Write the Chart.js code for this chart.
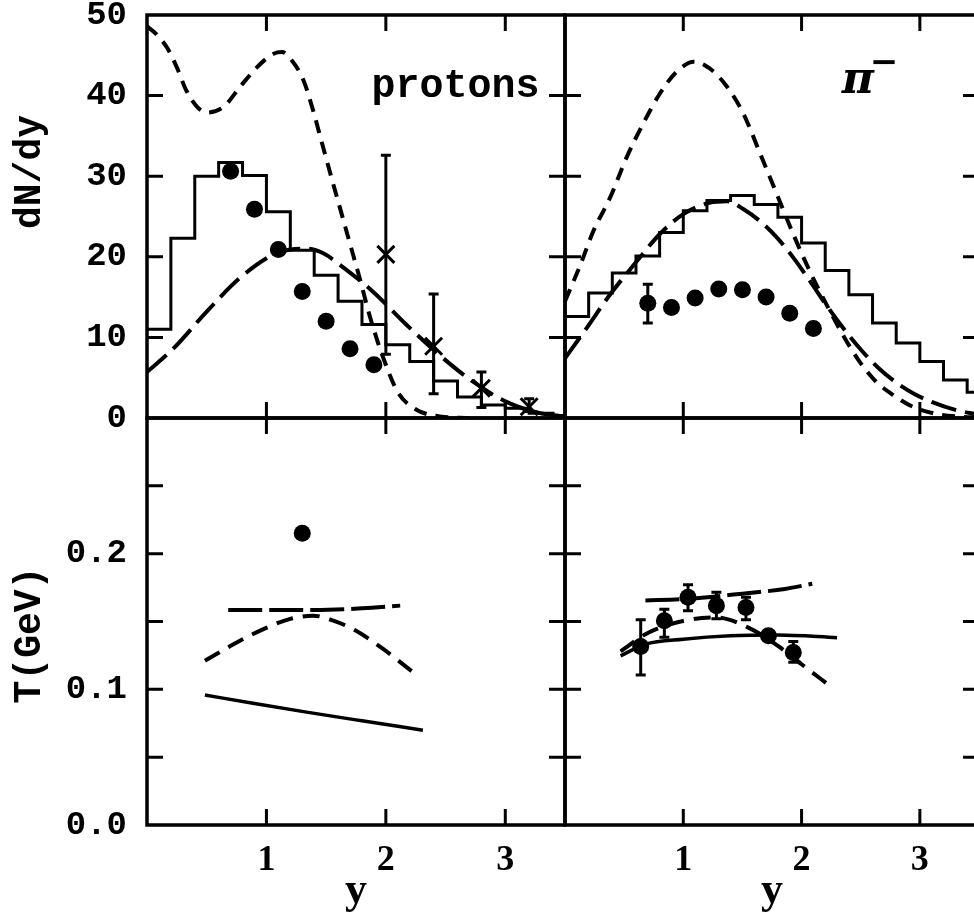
<!DOCTYPE html>
<html>
<head>
<meta charset="utf-8">
<script src="https://cdn.jsdelivr.net/npm/chart.js@4.4.1/dist/chart.umd.min.js"></script>
<style>
    html, body { margin: 0; padding: 0; background: #fff; overflow: hidden; }
    #wrap { position: relative; width: 974px; height: 918px; overflow: hidden; background: #fff; }
    canvas { position: absolute; }
</style>
</head>
<body>
<div id="wrap">
    <canvas id="tl" width="570" height="445" style="left:0;top:0;width:570px;height:445px"></canvas>
    <canvas id="tr" width="420" height="445" style="left:563px;top:0;width:420px;height:445px"></canvas>
    <canvas id="bl" width="570" height="508" style="left:0;top:410px;width:570px;height:508px"></canvas>
    <canvas id="br" width="420" height="508" style="left:563px;top:410px;width:420px;height:508px"></canvas>
</div>
<script>
// ---- axis ticks ----
const xTickVals = [1, 2, 3];
const nTickVals = [10, 20, 30, 40];
const nLabelVals = [0, 10, 20, 30, 40, 50];
const tTickVals = [0.05, 0.1, 0.15, 0.2, 0.25];
const tLabelVals = [0, 0.1, 0.2];

// ---- protons dN/dy ----
const binLo = [0, 0.2, 0.4, 0.6, 0.8, 1.0, 1.2, 1.4, 1.6, 1.8, 2.0, 2.2, 2.4, 2.6, 2.8, 3.0, 3.2, 3.4];
const pHist = [11, 22.3, 30, 31.7, 30.1, 25.6, 20.8, 17.7, 14.5, 11.6, 9.1, 7.0, 4.6, 2.6, 1.6, 1.2, 0.6, 0.3];
const pDotY = [0.7, 0.9, 1.1, 1.3, 1.5, 1.7, 1.9];
const pDotN = [30.6, 25.9, 20.9, 15.7, 12.0, 8.6, 6.6];
const pCrossY = [2.0, 2.4, 2.8, 3.2];
const pCrossN = [20.3, 8.9, 3.7, 1.4];
const pCrossLo = [7.9, 3.0, 1.3, 0.8];
const pCrossHi = [32.6, 15.4, 5.7, 2.4];
const pShortY = [0, 0.08, 0.17, 0.25, 0.33, 0.42, 0.5, 0.64, 0.78, 0.92, 1.06, 1.13, 1.2, 1.31, 1.39, 1.46, 1.545, 1.615, 1.7, 1.78, 1.87, 1.98, 2.1, 2.26, 2.45, 2.7];
const pShortN = [48.6, 47.6, 45.9, 43.5, 40.6, 38.6, 37.9, 38.6, 41.1, 43.5, 45.2, 45.4, 44.6, 41.9, 38.2, 34.4, 29.8, 26.1, 21.6, 17.4, 12.4, 7.4, 3.2, 1.0, 0.2, 0];
const pLongY = [0, 0.22, 0.5, 0.78, 1.06, 1.2, 1.34, 1.48, 1.615, 1.89, 2.17, 2.45, 2.73, 3.01, 3.29, 3.5];
const pLongN = [5.7, 8.6, 13.2, 17.4, 20.3, 20.9, 21.0, 20.4, 19.0, 15.7, 11.6, 7.8, 4.5, 2.0, 0.6, 0.2];

// ---- pi- dN/dy ----
const piHist = [12.6, 15.5, 18.0, 20.1, 23.0, 25.7, 27.0, 27.6, 26.5, 24.9, 21.7, 18.3, 15.3, 11.8, 9.3, 7.0, 4.7, 3.2];
const piDotY = [0.7, 0.9, 1.1, 1.3, 1.5, 1.7, 1.9, 2.1];
const piDotN = [14.25, 13.7, 14.9, 16.0, 15.9, 15.0, 13.0, 11.1];
const piDotLo = [11.8, null, null, null, null, null, null, null];
const piDotHi = [16.6, null, null, null, null, null, null, null];
const piShortY = [0, 0.13, 0.24, 0.38, 0.52, 0.66, 0.8, 0.94, 1.09, 1.22, 1.37, 1.51, 1.65, 1.79, 1.93, 2.07, 2.21, 2.35, 2.49, 2.63, 2.78, 2.94, 3.14, 3.35, 3.5];
const piShortN = [14.5, 19.0, 23.2, 27.3, 32.3, 36.5, 40.2, 42.9, 44.2, 43.4, 41.1, 37.7, 32.8, 27.8, 22.8, 18.2, 14.1, 10.3, 7.0, 4.5, 2.8, 1.4, 0.5, 0.15, 0.05];
const piLongY = [0, 0.18, 0.38, 0.61, 0.8, 1.0, 1.22, 1.37, 1.51, 1.65, 1.79, 1.93, 2.07, 2.2, 2.35, 2.5, 2.65, 2.8, 2.95, 3.1, 3.3, 3.5];
const piLongN = [7.4, 11.1, 15.3, 19.5, 22.8, 25.3, 26.7, 26.9, 25.9, 24.4, 22.4, 19.9, 17.0, 14.2, 11.2, 8.5, 6.2, 4.4, 3.0, 2.0, 1.0, 0.4];

// ---- protons T ----
const pTDotY = [1.3];
const pTDotT = [0.215];
const pTLongY = [0.68, 1.0, 1.4, 1.8, 2.12];
const pTLongT = [0.1585, 0.1585, 0.1585, 0.1597, 0.1617];
const pTShortY = [0.485, 0.72, 0.975, 1.2, 1.39, 1.56, 1.75, 1.98, 2.23];
const pTShortT = [0.121, 0.133, 0.1444, 0.1519, 0.1543, 0.1506, 0.1432, 0.1296, 0.1124];
const pTSolidY = [0.485, 0.9, 1.336, 1.8, 2.31];
const pTSolidT = [0.0958, 0.0895, 0.0832, 0.0768, 0.0699];

// ---- pi- T ----
const piTDotY = [0.64, 0.84, 1.04, 1.28, 1.53, 1.72, 1.93];
const piTDotT = [0.1316, 0.1506, 0.1678, 0.1617, 0.1604, 0.1395, 0.1272];
const piTDotLo = [0.1106, 0.1383, 0.158, 0.152, 0.1513, null, 0.12];
const piTDotHi = [0.1513, 0.159, 0.177, 0.1715, 0.1678, null, 0.1353];
const piTLongY = [0.68, 1.0, 1.5, 1.86, 2.09];
const piTLongT = [0.1655, 0.1665, 0.1705, 0.174, 0.1778];
const piTShortY = [0.47, 0.7, 1.03, 1.28, 1.55, 1.8, 2.0, 2.24];
const piTShortT = [0.128, 0.1415, 0.151, 0.153, 0.1455, 0.132, 0.1185, 0.1025];
const piTSolidY = [0.47, 0.68, 1.0, 1.4, 1.8, 2.3];
const piTSolidT = [0.1247, 0.1333, 0.137, 0.1395, 0.14, 0.1381];

const INK = "#000";
const monoBold = (size) => ({ family: "'Liberation Mono', 'Courier New', monospace", size: size, weight: "bold" });
const serifBold = (size) => ({ family: "'Liberation Serif', 'Times New Roman', serif", size: size, weight: "bold" });

function pts(xs, ys) {
    return xs.map((x, i) => ({ x: x, y: ys[i] }));
}

function histPts(lo, vals) {
    const p = lo.map((x, i) => ({ x: x, y: vals[i] }));
    p.push({ x: lo[lo.length - 1] + 0.2, y: vals[vals.length - 1] });
    return p;
}

// horizontal first, then the vertical jump at the next bin edge
function histSet(vals) {
    return { data: histPts(binLo, vals), stepped: "before", borderColor: INK, borderWidth: 3, pointRadius: 0, fill: false };
}

function curveSet(xs, ys, dash, width) {
    return {
        data: pts(xs, ys), borderColor: INK, borderWidth: width || 4, borderDash: dash,
        pointRadius: 0, fill: false, cubicInterpolationMode: "monotone", borderCapStyle: "butt"
    };
}

function dotSet(xs, ys, lo, hi) {
    return {
        data: pts(xs, ys), showLine: false, pointStyle: "circle", pointRadius: 8.5,
        pointBackgroundColor: INK, pointBorderWidth: 0, errLo: lo, errHi: hi
    };
}

// inward ticks on all four sides plus the frame
function framePlugin(yTicks) {
    return {
        id: "frame",
        afterDatasetsDraw(chart) {
            const { ctx, chartArea: a, scales } = chart;
            const len = 16;
            ctx.save();
            ctx.strokeStyle = INK;
            ctx.lineWidth = 3;
            ctx.beginPath();
            xTickVals.forEach((v) => {
                const px = scales.x.getPixelForValue(v);
                ctx.moveTo(px, a.top);
                ctx.lineTo(px, a.top + len);
                ctx.moveTo(px, a.bottom);
                ctx.lineTo(px, a.bottom - len);
            });
            yTicks.forEach((v) => {
                const py = scales.y.getPixelForValue(v);
                ctx.moveTo(a.left, py);
                ctx.lineTo(a.left + len, py);
                ctx.moveTo(a.right, py);
                ctx.lineTo(a.right - len, py);
            });
            ctx.stroke();
            ctx.lineWidth = 3.5;
            ctx.strokeRect(a.left, a.top, a.right - a.left, a.bottom - a.top);
            ctx.restore();
        }
    };
}

// vertical error bars with caps
const errorBarPlugin = {
    id: "errorBars",
    afterDatasetsDraw(chart) {
        const { ctx, scales } = chart;
        ctx.save();
        ctx.strokeStyle = INK;
        ctx.lineWidth = 3;
        chart.data.datasets.forEach((ds) => {
            if (!ds.errLo) return;
            ds.data.forEach((p, i) => {
                if (ds.errLo[i] == null) return;
                const px = scales.x.getPixelForValue(p.x);
                const y1 = scales.y.getPixelForValue(ds.errLo[i]);
                const y2 = scales.y.getPixelForValue(ds.errHi[i]);
                ctx.beginPath();
                ctx.moveTo(px, y1); ctx.lineTo(px, y2);
                ctx.moveTo(px - 5, y1); ctx.lineTo(px + 5, y1);
                ctx.moveTo(px - 5, y2); ctx.lineTo(px + 5, y2);
                ctx.stroke();
            });
        });
        ctx.restore();
    }
};

// free text: panel names and rotated y titles
function textPlugin(draw) {
    return { id: "texts", afterDraw(chart) { chart.ctx.save(); draw(chart.ctx, chart.scales); chart.ctx.restore(); } };
}

function panel(id, p) {
    const ctx = document.getElementById(id);
    return new Chart(ctx, {
        type: "line",
        data: { datasets: p.datasets },
        options: {
            responsive: false,
            animation: false,
            events: [],
            layout: { padding: p.pad, autoPadding: false },
            plugins: { legend: { display: false }, tooltip: { enabled: false } },
            scales: {
                x: {
                    type: "linear", min: 0, max: 3.5, display: p.showX,
                    grid: { display: false, drawTicks: false },
                    border: { display: false },
                    afterBuildTicks: (s) => { s.ticks = xTickVals.map((v) => ({ value: v })); },
                    afterFit: (s) => {
                        if (!p.showX) return;
                        s.height = 93; s.paddingLeft = 0; s.paddingRight = 0;
                    },
                    ticks: { color: INK, padding: 14, font: serifBold(36), callback: (v) => String(v) },
                    title: { display: true, text: "y", color: INK, padding: 0, font: serifBold(44) }
                },
                y: {
                    type: "linear", min: p.yMin, max: p.yMax, display: p.showY,
                    grid: { display: false, drawTicks: false },
                    border: { display: false },
                    afterBuildTicks: (s) => { s.ticks = p.yLabels.map((v) => ({ value: v })); },
                    afterFit: (s) => {
                        if (!p.showY) return;
                        s.width = 147; s.paddingTop = 0; s.paddingBottom = 0;
                    },
                    ticks: { color: INK, padding: 20, font: monoBold(34), callback: p.yFmt }
                }
            }
        },
        plugins: [framePlugin(p.yTicks), errorBarPlugin, textPlugin(p.texts)]
    });
}

function rotatedTitle(ctx, text, cx, cy) {
    ctx.fillStyle = INK;
    ctx.translate(cx, cy);
    ctx.rotate(-Math.PI / 2);
    ctx.font = "bold 38px 'Liberation Mono', monospace";
    ctx.textAlign = "center";
    ctx.textBaseline = "middle";
    ctx.fillText(text, 0, 0);
}

document.addEventListener("DOMContentLoaded", function () {
    // protons dN/dy
    panel("tl", {
        pad: { top: 15, right: 5, bottom: 27, left: 0 },
        showX: false, showY: true, yMin: 0, yMax: 50,
        yLabels: nLabelVals, yTicks: nTickVals, yFmt: (v) => String(v),
        datasets: [
            histSet(pHist),
            curveSet(pShortY, pShortN, [13, 9]),
            curveSet(pLongY, pLongN, [26, 9]),
            dotSet(pDotY, pDotN),
            {
                data: pts(pCrossY, pCrossN), showLine: false, pointStyle: "crossRot", pointRadius: 12,
                pointBorderColor: INK, pointBorderWidth: 3, errLo: pCrossLo, errHi: pCrossHi
            }
        ],
        texts: (ctx, sc) => {
            ctx.fillStyle = INK;
            ctx.font = "bold 40px 'Liberation Mono', monospace";
            ctx.textBaseline = "alphabetic";
            ctx.fillText("protons", sc.x.getPixelForValue(1.88), sc.y.getPixelForValue(39.8));
            rotatedTitle(ctx, "dN/dy", 30, 172);
        }
    });

    // pi- dN/dy
    panel("tr", {
        pad: { top: 15, right: 4, bottom: 27, left: 2 },
        showX: false, showY: false, yMin: 0, yMax: 50,
        yLabels: nLabelVals, yTicks: nTickVals, yFmt: (v) => String(v),
        datasets: [
            histSet(piHist),
            curveSet(piShortY, piShortN, [13, 9]),
            curveSet(piLongY, piLongN, [26, 9]),
            dotSet(piDotY, piDotN, piDotLo, piDotHi)
        ],
        texts: (ctx, sc) => {
            ctx.fillStyle = INK;
            const x0 = sc.x.getPixelForValue(2.34);
            const y0 = sc.y.getPixelForValue(40.3);
            ctx.font = "italic bold 44px 'DejaVu Serif', serif";
            ctx.textBaseline = "alphabetic";
            ctx.fillText("π", x0, y0);
            ctx.font = "bold 34px 'DejaVu Sans', sans-serif";
            ctx.fillText("−", x0 + 28, y0 - 20);
        }
    });

    // protons T
    panel("bl", {
        pad: { top: 8, right: 5, bottom: 0, left: 0 },
        showX: true, showY: true, yMin: 0, yMax: 0.3,
        yLabels: tLabelVals, yTicks: tTickVals, yFmt: (v) => v.toFixed(1),
        datasets: [
            curveSet(pTLongY, pTLongT, [34, 7]),
            curveSet(pTShortY, pTShortT, [17, 10]),
            curveSet(pTSolidY, pTSolidT, [], 3.5),
            dotSet(pTDotY, pTDotT)
        ],
        texts: (ctx) => {
            rotatedTitle(ctx, "T(GeV)", 30, 635 - 410);
        }
    });

    // pi- T
    panel("br", {
        pad: { top: 8, right: 4, bottom: 0, left: 2 },
        showX: true, showY: false, yMin: 0, yMax: 0.3,
        yLabels: tLabelVals, yTicks: tTickVals, yFmt: (v) => v.toFixed(1),
        datasets: [
            curveSet(piTLongY, piTLongT, [34, 7]),
            curveSet(piTShortY, piTShortT, [17, 10]),
            curveSet(piTSolidY, piTSolidT, [], 3.5),
            dotSet(piTDotY, piTDotT, piTDotLo, piTDotHi)
        ],
        texts: () => {}
    });
});
</script>
</body>
</html>
